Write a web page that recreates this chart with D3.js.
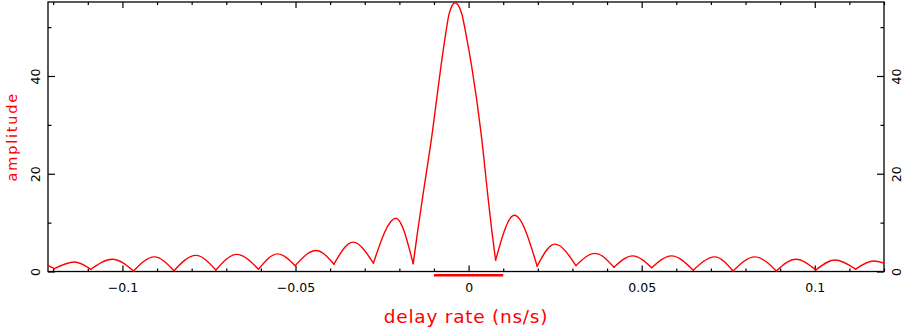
<!DOCTYPE html>
<html>
<head>
<meta charset="utf-8">
<script src="https://cdn.jsdelivr.net/npm/d3@7"></script>
<style>
  body { margin: 0; background: #fff; }
  svg { display: block; }
</style>
</head>
<body>
<div id="chart"></div>
<script>
// delay rate (ns/s) and amplitude
const rate = [-0.1215, -0.1197, -0.1139, -0.1091, -0.1029, -0.0968, -0.0908, -0.0851, -0.0788, -0.0730,
  -0.0670, -0.0607, -0.0552, -0.0501, -0.0441, -0.0389, -0.0334, -0.0275, -0.0210, -0.0160,
  -0.0148, -0.0134, -0.0105, -0.0080, -0.0066, -0.0056, -0.0039, -0.0020, -0.0008, 0.0009,
  0.0036, 0.0057, 0.0068, 0.0078, 0.0132, 0.0198, 0.0249, 0.0310, 0.0365, 0.0420,
  0.0474, 0.0529, 0.0586, 0.0649, 0.0711, 0.0764, 0.0827, 0.0889, 0.0945, 0.1003,
  0.1058, 0.1118, 0.1170, 0.1200]
const amp = [1.27, 0.57, 1.94, 0.45, 2.5, 0.1, 3.0, 0.16, 3.3, 0.3,
  3.5, 0.45, 3.6, 1.2, 4.3, 1.5, 6.0, 1.7, 10.9, 1.6,
  7.8, 14.6, 28.3, 41.9, 48.7, 52.8, 55.0, 52.8, 48.7, 41.9,
  28.3, 14.6, 7.8, 2.3, 11.5, 1.1, 5.6, 1.2, 3.7, 0.86,
  3.2, 0.78, 3.2, 0.25, 3.0, 0.1, 3.0, 0.1, 2.5, 0.3,
  2.35, 0.5, 2.15, 1.7]

const xTicks = [-0.1, -0.05, 0, 0.05, 0.1]
const xTickLabels = ["\u22120.1", "\u22120.05", "0", "0.05", "0.1"]
const xMinor = [-0.12, -0.11, -0.09, -0.08, -0.07, -0.06, -0.04, -0.03, -0.02, -0.01,
  0.01, 0.02, 0.03, 0.04, 0.06, 0.07, 0.08, 0.09, 0.11, 0.12]
const yTicks = [0, 20, 40]
const yMinor = [10, 30, 50]
const rateWindow = [-0.01, 0.01]   // red bar under the axis

const W = 905, H = 328
const LEFT = 48, RIGHT = 884, TOP = 2, BOTTOM = 271.5
const RED = "#ff0000"

const svg = d3.select("#chart").append("svg")
  .attr("width", W)
  .attr("height", H)

const x = d3.scaleLinear().domain([-0.1215, 0.1200]).range([LEFT, RIGHT])
const y = d3.scaleLinear().domain([0, 55.14]).range([BOTTOM, TOP])

const tickFont = g => g.selectAll("text")
  .attr("font-family", "DejaVu Sans, sans-serif")
  .attr("font-size", "12.5px")
  .attr("fill", "#000")

// bottom axis with labels, ticks inward
svg.append("g")
  .attr("transform", "translate(0," + BOTTOM + ")")
  .call(d3.axisBottom(x).tickValues(xTicks).tickFormat((d, i) => xTickLabels[i])
    .tickSizeInner(-6).tickSizeOuter(0).tickPadding(12))
  .call(tickFont)
svg.append("g")
  .attr("transform", "translate(0," + BOTTOM + ")")
  .call(d3.axisBottom(x).tickValues(xMinor).tickFormat("").tickSizeInner(-3).tickSizeOuter(0))

// top axis, ticks only
svg.append("g")
  .attr("transform", "translate(0," + TOP + ")")
  .call(d3.axisTop(x).tickValues(xTicks).tickFormat("").tickSizeInner(-6).tickSizeOuter(0))
svg.append("g")
  .attr("transform", "translate(0," + TOP + ")")
  .call(d3.axisTop(x).tickValues(xMinor).tickFormat("").tickSizeInner(-3).tickSizeOuter(0))

// left and right axes, labels rotated
svg.append("g")
  .attr("transform", "translate(" + LEFT + ",0)")
  .call(d3.axisLeft(y).tickValues(yTicks).tickSizeInner(-7).tickSizeOuter(0))
  .call(tickFont)
  .call(g => g.selectAll("text")
    .attr("x", 0).attr("dy", 0).attr("text-anchor", "middle")
    .attr("transform", "translate(-8,0) rotate(-90)"))
svg.append("g")
  .attr("transform", "translate(" + LEFT + ",0)")
  .call(d3.axisLeft(y).tickValues(yMinor).tickFormat("").tickSizeInner(-3.5).tickSizeOuter(0))

svg.append("g")
  .attr("transform", "translate(" + RIGHT + ",0)")
  .call(d3.axisRight(y).tickValues(yTicks).tickSizeInner(-7).tickSizeOuter(0))
  .call(tickFont)
  .call(g => g.selectAll("text")
    .attr("x", 0).attr("dy", 0).attr("text-anchor", "middle")
    .attr("transform", "translate(17,0) rotate(-90)"))
svg.append("g")
  .attr("transform", "translate(" + RIGHT + ",0)")
  .call(d3.axisRight(y).tickValues(yMinor).tickFormat("").tickSizeInner(-3.5).tickSizeOuter(0))

svg.selectAll(".domain").remove()
svg.selectAll(".tick line").attr("stroke", "#000").attr("stroke-width", 1.2)

// frame
svg.append("rect")
  .attr("x", LEFT).attr("y", TOP)
  .attr("width", RIGHT - LEFT).attr("height", BOTTOM - TOP)
  .attr("fill", "none").attr("stroke", "#000").attr("stroke-width", 1.3)

// split the curve at its nulls so each lobe meets the next in a sharp V
const pts = rate.map((r, i) => [r, amp[i]])
const segments = []
let seg = [pts[0]]
for (let i = 1; i < pts.length; i++) {
  seg.push(pts[i])
  const isNull = i < pts.length - 1 && amp[i] < amp[i - 1] && amp[i] < amp[i + 1]
  if (isNull) {
    segments.push(seg)
    seg = [pts[i]]
  }
}
segments.push(seg)

const line = d3.line()
  .x(d => x(d[0]))
  .y(d => y(d[1]))
  .curve(d3.curveMonotoneX)

svg.append("g").selectAll("path")
  .data(segments)
  .enter().append("path")
  .attr("d", line)
  .attr("fill", "none")
  .attr("stroke", RED)
  .attr("stroke-width", 1.4)
  .attr("stroke-linecap", "round")
  .attr("stroke-linejoin", "round")

// red bar marking the rate window
svg.append("line")
  .attr("x1", x(rateWindow[0])).attr("x2", x(rateWindow[1]))
  .attr("y1", BOTTOM + 3.8).attr("y2", BOTTOM + 3.8)
  .attr("stroke", RED).attr("stroke-width", 2.5)

// axis titles
svg.append("text")
  .attr("x", (LEFT + RIGHT) / 2)
  .attr("y", 323)
  .attr("text-anchor", "middle")
  .attr("font-family", "DejaVu Sans, sans-serif")
  .attr("font-size", "18.5px")
  .attr("letter-spacing", "0.75px")
  .attr("fill", RED)
  .text("delay rate (ns/s)")

svg.append("text")
  .attr("transform", "translate(16.5," + ((TOP + BOTTOM) / 2) + ") rotate(-90)")
  .attr("text-anchor", "middle")
  .attr("font-family", "DejaVu Sans, sans-serif")
  .attr("font-size", "14.5px")
  .attr("letter-spacing", "1.8px")
  .attr("fill", RED)
  .text("amplitude")
</script>
</body>
</html>
